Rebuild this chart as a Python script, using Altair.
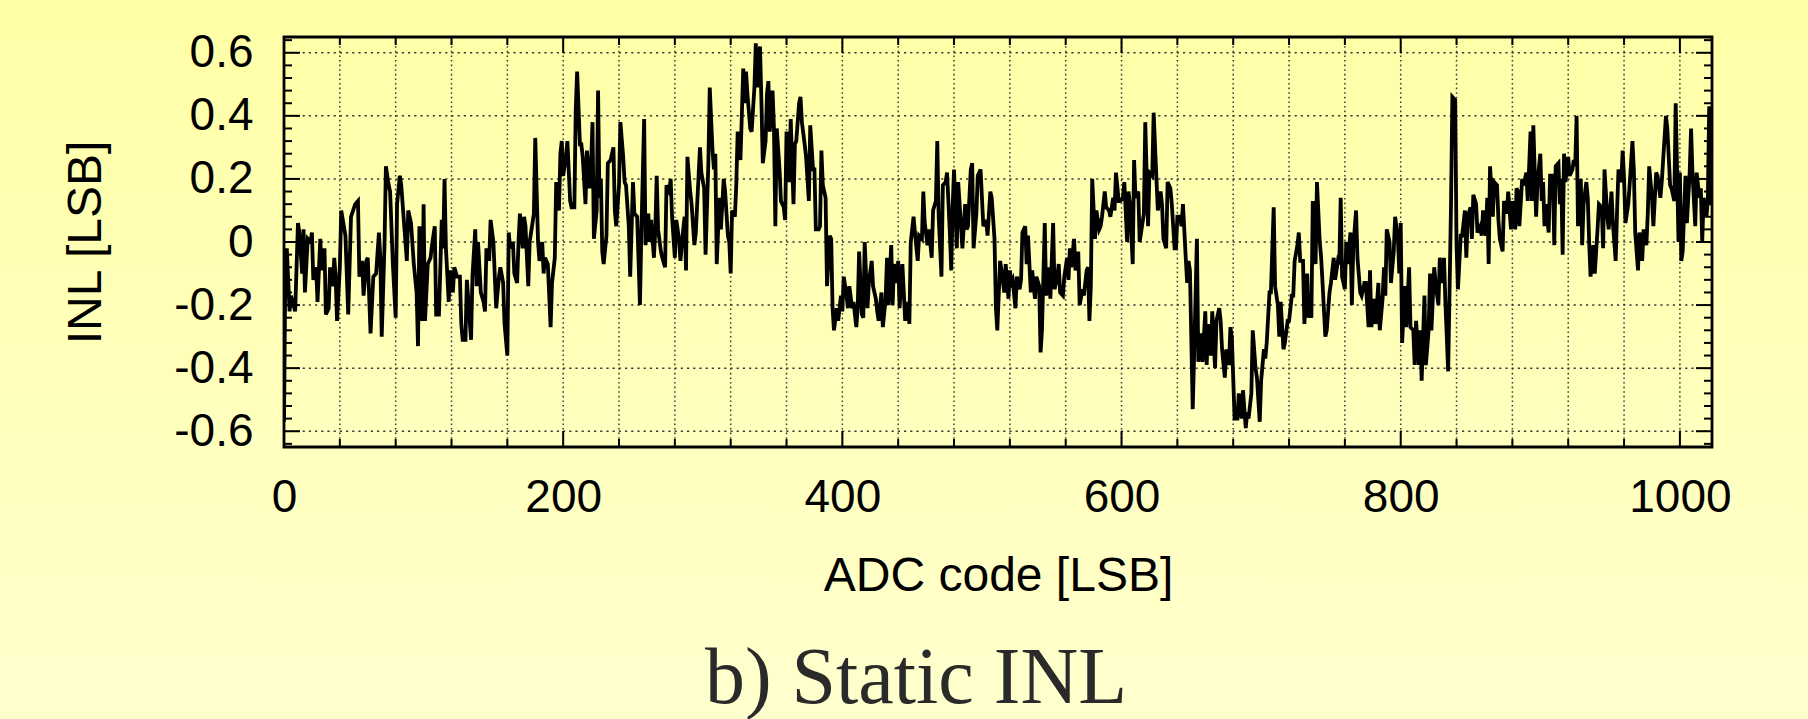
import altair as alt
import pandas as pd

# ---------------- data ----------------
adc_code = [
    0, 1, 2, 4, 5, 8, 10, 11, 13, 14, 15, 17, 19, 20, 21, 23, 24, 26, 27, 29,
    30, 32, 33, 35, 36, 37, 38, 40, 41, 44, 46, 48, 51, 53, 54, 56, 57, 59, 60, 62,
    64, 66, 68, 69, 70, 72, 73, 75, 76, 78, 80, 81, 83, 84, 86, 88, 89, 91, 93, 95,
    96, 97, 99, 100, 101, 103, 105, 106, 108, 109, 111, 113, 114, 115, 116, 118, 119, 121, 122, 124,
    126, 127, 128, 130, 131,
    132, 134, 135, 137, 138, 139, 141, 143, 144, 145, 147, 148, 150, 152, 154, 155, 157, 158, 160, 161,
    162, 164, 165, 167, 168, 169, 171, 172, 173, 175, 176, 177, 179, 180, 182, 183, 185, 186, 187, 189,
    191, 192, 194, 195, 197, 198, 199, 200, 202, 203, 205, 206, 208, 209, 210, 212, 213, 214, 216, 217,
    219, 220, 221, 222, 224, 225, 226, 227, 228, 229, 231, 232, 234, 236, 237, 238, 240, 241, 243, 244,
    245, 247, 248, 250, 251, 253, 255, 256, 258,
    259, 261, 262, 263, 265, 266, 267, 268, 270, 271, 273, 274, 276, 277, 278, 280, 281, 283, 284, 286,
    287, 288, 289, 291, 292, 294, 295, 297, 298, 299, 301, 302, 304, 305, 307, 308, 309, 310, 312, 313,
    315, 316, 318, 319, 320, 321, 323, 324, 325, 327, 329, 330, 331, 332, 334, 335, 337, 338, 339, 341,
    342, 343, 345, 346, 347, 348, 350, 351, 352, 353, 355, 356, 358, 359, 360, 362, 363, 365, 366, 367,
    369, 370, 371, 373, 374, 376, 377, 379, 380, 381, 383,
    384, 385, 386, 388, 389, 391, 392, 393, 394, 396, 397, 399, 400, 401, 403, 404, 405, 407, 408, 410,
    411, 412, 414, 415, 416, 418, 419, 421, 422, 424, 425, 426, 428, 429, 431, 432, 433, 435, 436, 437,
    439, 440, 441, 443, 444, 445, 447, 448, 449, 451, 452, 454, 455, 457, 458, 459, 461, 462, 464, 465,
    467, 468, 469, 471, 472, 474, 475, 477, 478, 479, 480, 482, 483, 485, 486, 488, 489, 490, 492, 493,
    494, 496, 497, 499, 500, 501, 503, 504, 506, 507, 509, 510, 511,
    513, 514, 516, 517, 519, 520, 521, 522, 524, 525, 527, 528, 529, 531, 532, 533, 535, 536, 538, 539,
    541, 542, 543, 545, 546, 548, 549, 551, 552, 554, 555, 556, 558, 559, 561, 562, 563, 564, 566, 567,
    569, 570, 572, 573, 575, 576, 577, 578, 579, 581, 582, 584, 585, 586, 588, 589, 591, 592, 594, 595,
    596, 598, 599, 601, 602, 604, 605, 606, 608, 609, 610, 612, 613, 615, 616, 617, 619, 620, 622, 623,
    625, 626, 628, 629, 630, 632, 633, 635, 636, 638, 639, 640,
    642, 643, 644, 646, 647, 648, 649, 651, 652, 654, 655, 657, 658, 660, 661, 662, 664, 665, 667, 668,
    670, 671, 672, 674, 675, 677, 678, 679, 680, 681, 683, 684, 686, 687, 689, 690, 691, 693, 694, 696,
    697, 699, 700, 702, 703, 704, 706, 707, 709, 710, 712, 713, 714, 716, 717, 719, 720, 722, 723, 724,
    726, 727, 728, 730, 731, 733, 734, 735, 736, 737, 739, 740, 742, 743, 744, 746, 747, 749, 750, 752,
    753, 755, 756, 757, 758, 760, 761, 762, 764, 765, 766, 768, 769,
    771, 772, 774, 775, 777, 778, 779, 781, 782, 784, 785, 787, 788, 789, 790, 792, 793, 795, 796, 798,
    799, 800, 801, 803, 804, 806, 807, 809, 810, 811, 813, 814, 815, 817, 818, 820, 821, 822, 824, 825,
    827, 828, 830, 831, 832, 834, 836, 837, 839, 840, 841, 843, 844, 846, 847, 848, 850, 851, 852, 854,
    855, 857, 858, 859, 861, 862, 863, 864, 866, 867, 869, 870, 871, 873, 874, 876, 877, 879, 880, 882,
    883, 884, 885, 887, 888, 890, 891, 893, 894, 895, 897, 898,
    900, 901, 902, 903, 904, 906, 907, 909, 910, 911, 913, 914, 915, 916, 917, 918, 920, 921, 923, 924,
    925, 926, 927, 929, 930, 931, 933, 934, 935, 936, 938, 939, 941, 942, 944, 945, 946, 948, 949, 951,
    952, 954, 955, 956, 958, 959, 960, 961, 963, 964, 966, 967, 968, 970, 971, 973, 974, 976, 977, 978,
    980, 981, 983, 984, 986, 987, 988, 990, 991, 993, 994, 996, 997, 998, 999, 1000, 1001, 1002, 1004, 1005,
    1007, 1008, 1009, 1011, 1012, 1014, 1015, 1016, 1017, 1019, 1020, 1021, 1022,
]

inl_lsb = [
    -0.57, -0.07, -0.02, -0.22, -0.17, -0.22, 0.06, 0.03, -0.10, 0.04, -0.16, 0.01, 0.00, 0.03, -0.12, -0.08, -0.19, 0.01, -0.09, -0.02,
    -0.23, -0.21, -0.08, -0.14, -0.05, -0.11, -0.25, -0.08, 0.10, 0.02, -0.23, 0.08, 0.12, 0.13, -0.11, -0.06, -0.17, -0.06, -0.05, -0.29,
    -0.11, -0.10, 0.03, -0.05, -0.30, -0.01, 0.24, 0.18, 0.16, -0.07, -0.24, 0.12, 0.21, 0.18, 0.06, -0.06, 0.10, 0.06, -0.07, -0.16,
    -0.33, 0.05, -0.25, 0.12, -0.25, -0.07, -0.05, -0.01, 0.05, -0.23, -0.23, 0.07, -0.02, 0.20, -0.02, -0.19, -0.09, -0.16, -0.08, -0.11,
    -0.11, -0.26, -0.31, -0.31, -0.12,
    -0.18, -0.31, -0.11, 0.04, -0.14, 0.00, -0.16, -0.19, -0.22, -0.02, -0.06, 0.07, 0.00, -0.21, -0.11, -0.08, -0.13, -0.26, -0.36, 0.03,
    -0.02, 0.00, -0.10, -0.13, 0.00, 0.09, -0.02, 0.08, 0.05, -0.14, 0.00, 0.03, 0.09, 0.33, 0.00, -0.06, 0.00, -0.10, -0.05, -0.07,
    -0.27, -0.13, -0.05, 0.19, 0.10, 0.28, 0.32, 0.21, 0.27, 0.32, 0.13, 0.11, 0.11, 0.42, 0.54, 0.31, 0.31, 0.27, 0.12, 0.29,
    0.17, 0.25, 0.38, 0.01, 0.10, 0.48, 0.14, 0.20, -0.03, -0.07, 0.02, 0.25, 0.26, 0.30, 0.10, 0.05, 0.18, 0.38, 0.27, 0.19,
    0.18, 0.05, -0.11, 0.19, 0.09, 0.08, -0.20, 0.03, 0.39,
    -0.01, 0.09, 0.00, 0.07, -0.05, 0.04, 0.21, 0.04, -0.03, -0.05, -0.08, 0.18, 0.16, 0.20, 0.08, -0.05, 0.07, 0.01, -0.06, 0.04,
    0.08, -0.09, 0.27, 0.16, 0.12, -0.01, 0.03, 0.21, 0.30, 0.22, 0.17, -0.04, 0.25, 0.49, 0.29, 0.23, 0.28, -0.07, 0.14, 0.04,
    0.20, 0.16, 0.02, 0.00, -0.10, 0.10, 0.08, 0.18, 0.35, 0.26, 0.55, 0.44, 0.54, 0.47, 0.36, 0.35, 0.49, 0.63, 0.49, 0.62,
    0.45, 0.25, 0.32, 0.47, 0.51, 0.35, 0.48, 0.36, 0.05, 0.36, 0.23, 0.13, 0.11, 0.07, 0.35, 0.19, 0.39, 0.12, 0.31, 0.32,
    0.44, 0.46, 0.38, 0.31, 0.27, 0.13, 0.37, 0.23, 0.23, 0.04, 0.04,
    0.05, 0.29, 0.18, 0.14, -0.14, 0.02, 0.01, -0.21, -0.28, -0.21, -0.25, -0.17, -0.22, -0.11, -0.17, -0.21, -0.14, -0.21, -0.19, -0.27,
    -0.21, -0.03, -0.23, -0.24, 0.00, -0.21, -0.13, -0.06, -0.14, -0.18, -0.22, -0.25, -0.16, -0.27, -0.18, -0.05, -0.20, -0.01, -0.20, -0.07,
    -0.13, -0.06, -0.21, -0.07, -0.16, -0.25, -0.19, -0.26, 0.00, 0.08, 0.03, -0.06, 0.02, 0.01, 0.16, 0.06, -0.01, 0.04, -0.05, 0.10,
    0.13, 0.32, 0.08, -0.11, 0.18, 0.19, 0.22, 0.03, -0.09, 0.11, 0.23, -0.02, 0.19, 0.05, -0.02, 0.12, 0.04, 0.05, 0.23, 0.25,
    -0.02, 0.09, 0.21, 0.23, 0.14, 0.05, 0.07, 0.02, 0.16, 0.14, 0.01, -0.21, -0.28,
    -0.06, -0.09, -0.16, -0.07, -0.18, -0.09, -0.13, -0.12, -0.21, -0.11, -0.15, -0.12, 0.03, 0.05, -0.07, 0.02, -0.16, -0.09, -0.18, -0.11,
    -0.14, -0.35, -0.28, 0.06, -0.17, -0.08, -0.18, 0.06, -0.15, -0.11, -0.07, -0.16, -0.17, -0.11, -0.05, -0.12, -0.02, -0.08, 0.01, -0.09,
    -0.03, -0.20, -0.15, -0.17, -0.09, -0.08, -0.25, -0.14, 0.20, 0.01, 0.10, 0.04, 0.05, 0.08, 0.16, 0.11, 0.10, 0.08, 0.14, 0.10,
    0.22, 0.13, 0.13, 0.14, 0.19, 0.00, 0.16, 0.12, -0.07, 0.26, 0.14, 0.16, 0.00, 0.06, 0.09, 0.38, 0.05, 0.22, 0.21, 0.41,
    0.20, 0.10, 0.16, 0.12, 0.01, -0.02, 0.19, 0.17, 0.12, -0.02, -0.02, 0.08,
    0.08, 0.05, 0.12, -0.05, -0.13, -0.06, -0.09, -0.53, -0.36, 0.01, -0.38, -0.29, -0.38, -0.22, -0.39, -0.26, -0.36, -0.22, -0.40, -0.25,
    -0.21, -0.25, -0.34, -0.43, -0.34, -0.39, -0.27, -0.30, -0.43, -0.56, -0.56, -0.48, -0.56, -0.47, -0.59, -0.54, -0.56, -0.48, -0.28, -0.40,
    -0.43, -0.57, -0.44, -0.34, -0.37, -0.32, -0.16, -0.16, 0.11, -0.14, -0.20, -0.30, -0.19, -0.34, -0.32, -0.25, -0.25, -0.17, -0.17, -0.06,
    -0.01, 0.03, -0.06, -0.06, -0.26, -0.10, -0.24, -0.20, -0.24, 0.13, -0.07, 0.19, 0.00, -0.05, -0.13, -0.30, -0.28, -0.16, -0.13, -0.05,
    -0.12, -0.06, -0.07, 0.14, -0.11, -0.15, 0.00, -0.07, 0.03, -0.20, -0.02, 0.10, -0.05,
    -0.16, -0.17, -0.13, -0.13, -0.27, -0.09, -0.27, -0.18, -0.26, -0.13, -0.28, -0.18, -0.08, -0.17, 0.04, 0.00, -0.13, -0.03, 0.08, 0.01,
    -0.10, 0.06, -0.32, -0.14, -0.27, -0.08, -0.27, -0.28, -0.39, -0.25, -0.39, -0.28, -0.44, -0.17, -0.39, -0.28, -0.10, -0.28, -0.08, -0.13,
    -0.20, -0.05, -0.13, -0.05, -0.19, -0.41, 0.11, 0.46, 0.45, -0.01, -0.15, 0.02, 0.02, 0.10, -0.05, 0.08, 0.11, 0.01, 0.15, 0.12,
    0.03, 0.05, 0.02, 0.10, 0.02, 0.14, -0.07, 0.24, 0.08, 0.19, 0.18, 0.07, 0.01, -0.03, 0.13, 0.09, 0.16, 0.04, 0.13, 0.04,
    0.17, 0.16, 0.05, 0.20, 0.18, 0.22, 0.13, 0.35, 0.13, 0.37, 0.08, 0.19,
    0.28, 0.13, 0.19, 0.05, 0.12, 0.03, 0.21, 0.21, -0.01, 0.24, 0.25, 0.12, 0.20, -0.04, 0.28, 0.19, 0.27, 0.21, 0.23, 0.26,
    0.24, 0.40, 0.05, 0.20, -0.01, 0.12, 0.19, 0.14, 0.00, -0.11, -0.01, -0.10, 0.04, 0.12, 0.11, -0.02, 0.23, 0.08, 0.04, 0.16,
    0.06, -0.06, 0.10, 0.23, 0.19, 0.29, 0.20, 0.06, 0.12, 0.18, 0.32, 0.23, 0.03, -0.09, 0.03, -0.06, 0.04, -0.01, 0.09, 0.24,
    0.14, 0.05, 0.22, 0.21, 0.14, 0.19, 0.26, 0.40, 0.36, 0.18, 0.17, 0.13, 0.44, 0.22, 0.00, 0.22, -0.06, -0.03, 0.21, 0.06,
    0.22, 0.36, 0.22, 0.05, 0.22, 0.14, 0.17, 0.00, 0.14, 0.08, 0.13, 0.43, 0.12,
]

x_label_values = [0, 200, 400, 600, 800, 1000]
x_minor_values = [40, 80, 120, 160, 240, 280, 320, 360, 440, 480, 520, 560,
                  640, 680, 720, 760, 840, 880, 920, 960]
x_grid_values = [40, 80, 120, 160, 200, 240, 280, 320, 360, 400, 440, 480, 520, 560,
                 600, 640, 680, 720, 760, 800, 840, 880, 920, 960, 1000]
y_label_values = [-0.6, -0.4, -0.2, 0.0, 0.2, 0.4, 0.6]
y_minor_values = [-0.64, -0.56, -0.52, -0.48, -0.44, -0.36, -0.32, -0.28, -0.24,
                  -0.16, -0.12, -0.08, -0.04, 0.04, 0.08, 0.12, 0.16, 0.24, 0.28,
                  0.32, 0.36, 0.44, 0.48, 0.52, 0.56, 0.64]

caption = "b) Static INL"
x_title = "ADC code [LSB]"
y_title = "INL [LSB]"

# ---------------- layout ----------------
W, H = 1428, 410
PAD = {"left": 284, "top": 37, "right": 96, "bottom": 272}
SANS = "Liberation Sans"

xscale = alt.Scale(domain=[0, 1023], nice=False, zero=False)
yscale = alt.Scale(domain=[-0.65, 0.65], nice=False, zero=False)

y_label_expr = ("datum.value == 0 ? '0' : (datum.value < 0 ? '-' : '') + "
                "format(abs(datum.value), '.1f')")

X_AXIS = alt.Axis(
    values=x_label_values, grid=False, ticks=False, tickSize=0, domain=False,
    labelFont=SANS, labelFontSize=46, labelColor="black", labelPadding=28,
    labelFlush=False, labelOverlap=False, format="d", zindex=2,
    title=x_title, titleFont=SANS, titleFontSize=48, titleFontWeight="normal",
    titleColor="black", titleX=W / 2, titleY=143, titleBaseline="alphabetic",
    titleAlign="center",
)
Y_AXIS = alt.Axis(
    values=y_label_values, grid=False, ticks=False, tickSize=0, domain=False,
    labelFont=SANS, labelFontSize=46, labelColor="black", labelPadding=31,
    labelExpr=y_label_expr, labelFlush=False, labelOverlap=False, zindex=2,
    title=y_title, titleFont=SANS, titleFontSize=48, titleFontWeight="normal",
    titleColor="black", titleX=-184, titleY=H / 2, titleAngle=270,
    titleBaseline="alphabetic", titleAlign="center",
)


def XF():
    return alt.X("code:Q", scale=xscale, axis=X_AXIS)


def YF():
    return alt.Y("inl:Q", scale=yscale, axis=Y_AXIS)


df = pd.DataFrame({"code": adc_code, "inl": inl_lsb})
one = pd.DataFrame({"k": [0]})

# background gradient covering whole canvas
bg = alt.Chart(one).mark_rect(
    color=alt.Gradient(
        gradient="linear",
        stops=[alt.GradientStop(color="#FFFFA6", offset=0),
               alt.GradientStop(color="#FFFFCE", offset=1)],
        x1=0, x2=0, y1=0, y2=1,
    )
).encode(
    x=alt.value(-PAD["left"]), x2=alt.value(W + PAD["right"]),
    y=alt.value(-PAD["top"]), y2=alt.value(H + PAD["bottom"]),
)

xgrid = alt.Chart(pd.DataFrame({"code": x_grid_values})).mark_rule(
    color="#3a3a3a", strokeWidth=1.5, strokeDash=[1.6, 3.0]
).encode(x=XF(), y=alt.value(0), y2=alt.value(H))

ygrid = alt.Chart(pd.DataFrame({"inl": y_label_values})).mark_rule(
    color="#3a3a3a", strokeWidth=1.5, strokeDash=[2.2, 4]
).encode(y=YF(), x=alt.value(0), x2=alt.value(W))

line = alt.Chart(df).mark_line(color="black", strokeWidth=3.8, clip=True).encode(
    x=XF(), y=YF()
)


def xticks(values, length):
    d = pd.DataFrame({"code": values})
    bottom = alt.Chart(d).mark_rule(color="black", strokeWidth=2).encode(
        x=XF(), y=alt.value(H), y2=alt.value(H - length))
    top = alt.Chart(d).mark_rule(color="black", strokeWidth=2).encode(
        x=XF(), y=alt.value(0), y2=alt.value(length))
    return [bottom, top]


def yticks(values, length):
    d = pd.DataFrame({"inl": values})
    left = alt.Chart(d).mark_rule(color="black", strokeWidth=2).encode(
        y=YF(), x=alt.value(0), x2=alt.value(length))
    right = alt.Chart(d).mark_rule(color="black", strokeWidth=2).encode(
        y=YF(), x=alt.value(W), x2=alt.value(W - length))
    return [left, right]


frame = alt.Chart(one).mark_rect(
    fillOpacity=0, stroke="black", strokeWidth=2.8
).encode(x=alt.value(0), x2=alt.value(W), y=alt.value(0), y2=alt.value(H))

cap = alt.Chart(pd.DataFrame({"caption": [caption]})).mark_text(
    font="Liberation Serif", fontSize=80, color="#2a2a2a",
    align="center", baseline="alphabetic"
).encode(text="caption:N", x=alt.value(632), y=alt.value(666))

layers = [bg, xgrid, ygrid, line]
layers += xticks(x_label_values, 16) + xticks(x_minor_values, 8)
layers += yticks(y_label_values, 16) + yticks(y_minor_values, 8)
layers += [frame, cap]

chart = alt.layer(*layers).properties(
    width=W, height=H, padding=PAD,
    autosize=alt.AutoSizeParams(type="none"),
).configure(background="#FFFFBB").configure_view(stroke=None)

chart.save("out.html", embed_options={"renderer": "svg", "actions": False})
